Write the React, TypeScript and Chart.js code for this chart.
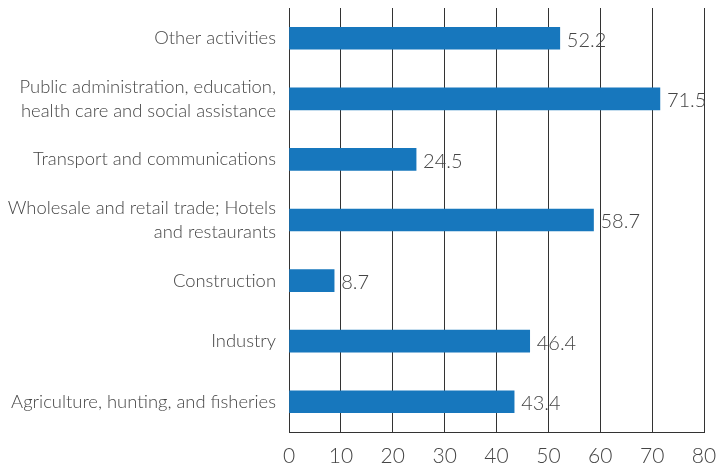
import React, { useEffect, useRef } from "react";
import { Chart, registerables } from "chart.js";

Chart.register(...registerables);

const categories: (string | string[])[] = [
  "Other activities",
  ["Public administration, education,", "health care and social assistance"],
  "Transport and communications",
  ["Wholesale and retail trade; Hotels", "and restaurants"],
  "Construction",
  "Industry",
  "Agriculture, hunting, and fisheries",
];
const values: number[] = [52.2, 71.5, 24.5, 58.7, 8.7, 46.4, 43.4];
const xTicks: number[] = [0, 10, 20, 30, 40, 50, 60, 70, 80];

const FONT = "Lato, 'Open Sans', sans-serif";

const valueLabels = {
  id: "valueLabels",
  afterDatasetsDraw(chart: any) {
    const ctx = chart.ctx;
    const meta = chart.getDatasetMeta(0);
    ctx.save();
    ctx.font = `300 20px ${FONT}`;
    ctx.fillStyle = "#454545";
    ctx.textAlign = "left";
    ctx.textBaseline = "middle";
    meta.data.forEach((el: any, i: number) => {
      ctx.fillText(String(values[i]), el.x + 7, el.y + 2);
    });
    ctx.restore();
  },
};

export default function App() {
  const ref = useRef<HTMLCanvasElement>(null);
  useEffect(() => {
    document.body.style.margin = "0";
    const chart = new Chart(ref.current!, {
      type: "bar",
      data: {
        labels: categories,
        datasets: [
          {
            data: values,
            backgroundColor: "#1777bd",
            borderWidth: 0,
            barThickness: 22,
          },
        ],
      },
      plugins: [valueLabels],
      options: {
        indexAxis: "y",
        animation: false,
        responsive: false,
        maintainAspectRatio: false,
        layout: { padding: { top: 8, right: 15, left: 0, bottom: 0 } },
        plugins: { legend: { display: false }, tooltip: { enabled: false } },
        scales: {
          x: {
            min: 0,
            max: 80,
            afterBuildTicks: (scale: any) => {
              scale.ticks = xTicks.map((v) => ({ value: v }));
            },
            afterFit: (scale: any) => {
              scale.height = 38;
              scale.paddingLeft = 0;
              scale.paddingRight = 0;
            },
            grid: { color: "#333333", lineWidth: 1, drawTicks: false },
            border: { display: true, color: "#333333", width: 1 },
            ticks: {
              padding: 12,
              color: "#454545",
              font: { family: FONT, size: 21, weight: "300" as any },
            },
          },
          y: {
            afterFit: (scale: any) => {
              scale.width = 289;
              scale.paddingTop = 0;
              scale.paddingBottom = 0;
            },
            grid: { display: false, drawTicks: false },
            border: { display: false },
            ticks: {
              padding: 13,
              color: "#454545",
              font: { family: FONT, size: 18.4, weight: "300" as any, lineHeight: 1.3 },
            },
          },
        },
      },
    });
    return () => chart.destroy();
  }, []);
  return <canvas ref={ref} width={719} height={470} style={{ display: "block" }} />;
}
